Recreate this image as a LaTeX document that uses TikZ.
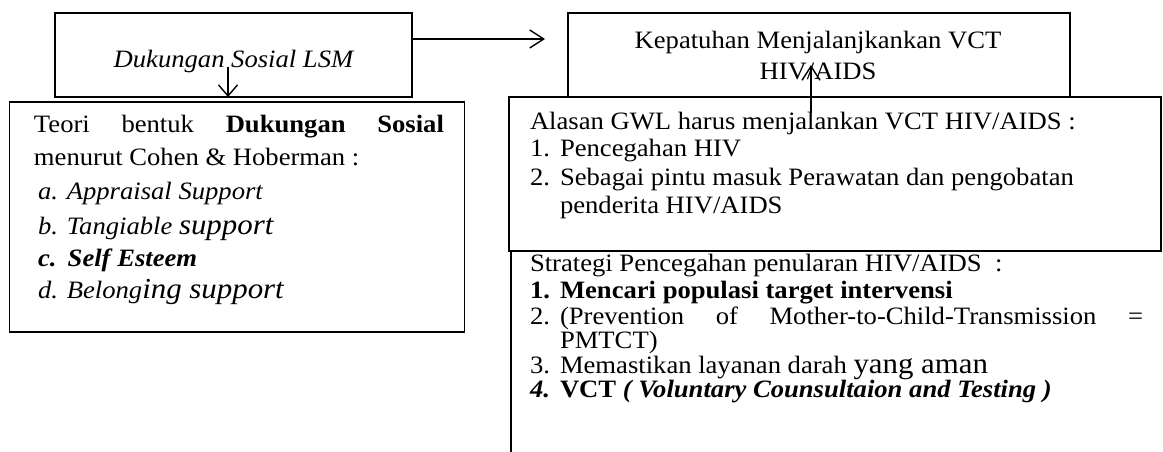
\documentclass[tikz,border=0pt]{standalone}
\usepackage{fontspec}
\setmainfont{Liberation Serif}[FakeStretch=1.065]
\usetikzlibrary{arrows.meta}
\newcommand{\bgr}{\fontsize{29}{30}\selectfont}
\begin{document}
\begin{tikzpicture}[x=1pt,y=-1pt,
  every node/.style={font=\fontsize{25}{28}\selectfont, inner sep=0pt, outer sep=0pt},
  box/.style={draw, line width=1.6pt, rectangle},
  txt/.style={anchor=base west},
  ctxt/.style={anchor=base},
  arr/.style={line width=1.4pt, -{Straight Barb[length=14pt, width=18pt, line width=1.4pt]}}]
\useasboundingbox (0,0) rectangle (1163,452);
% boxes
\node[box, minimum width=357pt, minimum height=84pt] (lsm) at (233.5,55) {};
\node[box, minimum width=502pt, minimum height=84pt] (kep) at (819,55) {};
\node[box, minimum width=455pt, minimum height=230pt] (teori) at (237,217) {};
\node[box, minimum width=652pt, minimum height=154pt] (alasan) at (835,174) {};
\coordinate (sTop) at (511,251);
\coordinate (sBot) at (511,452);
\draw[line width=1.6pt] (sTop) -- (sBot);
% texts box 1 and 3
\node[ctxt] (lsmT) at (233.5,67) {\itshape Dukungan Sosial LSM};
\node[ctxt] (kepT1) at (818,49) {Kepatuhan Menjalanjkankan VCT};
\node[ctxt] (kepT2) at (818,80) {HIV/AIDS};
% box 2 texts
\node[txt] (t1) at (34,132) {\makebox[410pt][s]{Teori bentuk \textbf{Dukungan Sosial}}};
\node[txt] (t2) at (34,165) {menurut Cohen \& Hoberman :};
\node[txt] (t3) at (38,199) {\itshape a. Appraisal Support};
\node[txt] (t4) at (38,234) {\itshape b. Tangiable {\bgr support}};
\node[txt] (t5) at (38,266) {\bfseries\itshape c.\hspace{0.45em}Self Esteem};
\node[txt] (t6) at (38,298) {\itshape d. Belong{\bgr ing support}};
% box 4 texts
\node[txt] (a0) at (530,129) {Alasan GWL harus menjalankan VCT HIV/AIDS :};
\node[txt] (a1n) at (530,157) {1.};
\node[txt] (a1) at (560,157) {Pencegahan HIV};
\node[txt] (a2n) at (530,185) {2.};
\node[txt] (a2) at (560,185) {Sebagai pintu masuk Perawatan dan pengobatan};
\node[txt] (a3) at (560,213) {penderita HIV/AIDS};
% strategy texts
\node[txt] (s0) at (530,271) {Strategi Pencegahan penularan HIV/AIDS\ \ :};
\node[txt] (s1n) at (530,298) {\bfseries 1.};
\node[txt] (s1) at (560,298) {\bfseries Mencari populasi target intervensi};
\node[txt] (s2n) at (530,324) {2.};
\node[txt] (s2) at (560,324) {\makebox[583pt][s]{(Prevention of Mother-to-Child-Transmission =}};
\node[txt] (s3) at (560,348) {PMTCT)};
\node[txt] (s4n) at (530,373) {3.};
\node[txt] (s4) at (560,373) {Memastikan layanan darah {\bgr yang aman}};
\node[txt] (s5n) at (530,397) {\bfseries\itshape 4.};
\node[txt] (s5) at (560,397) {\textbf{VCT} \textbf{\textit{( Voluntary Counsultaion and Testing )}}};
% connectors
\coordinate (tipR) at (545,39);
\draw[arr] (lsm.east |- tipR) -- (tipR);
\coordinate (dA) at (228,67);
\draw[arr, -{Straight Barb[length=11pt, width=19pt, line width=1.4pt]}] (dA) -- (dA |- lsm.south);
\coordinate (uA) at (811,113);
\coordinate (uB) at (811,65);
\draw[arr] (uA) -- (uB);
\end{tikzpicture}
\end{document}
